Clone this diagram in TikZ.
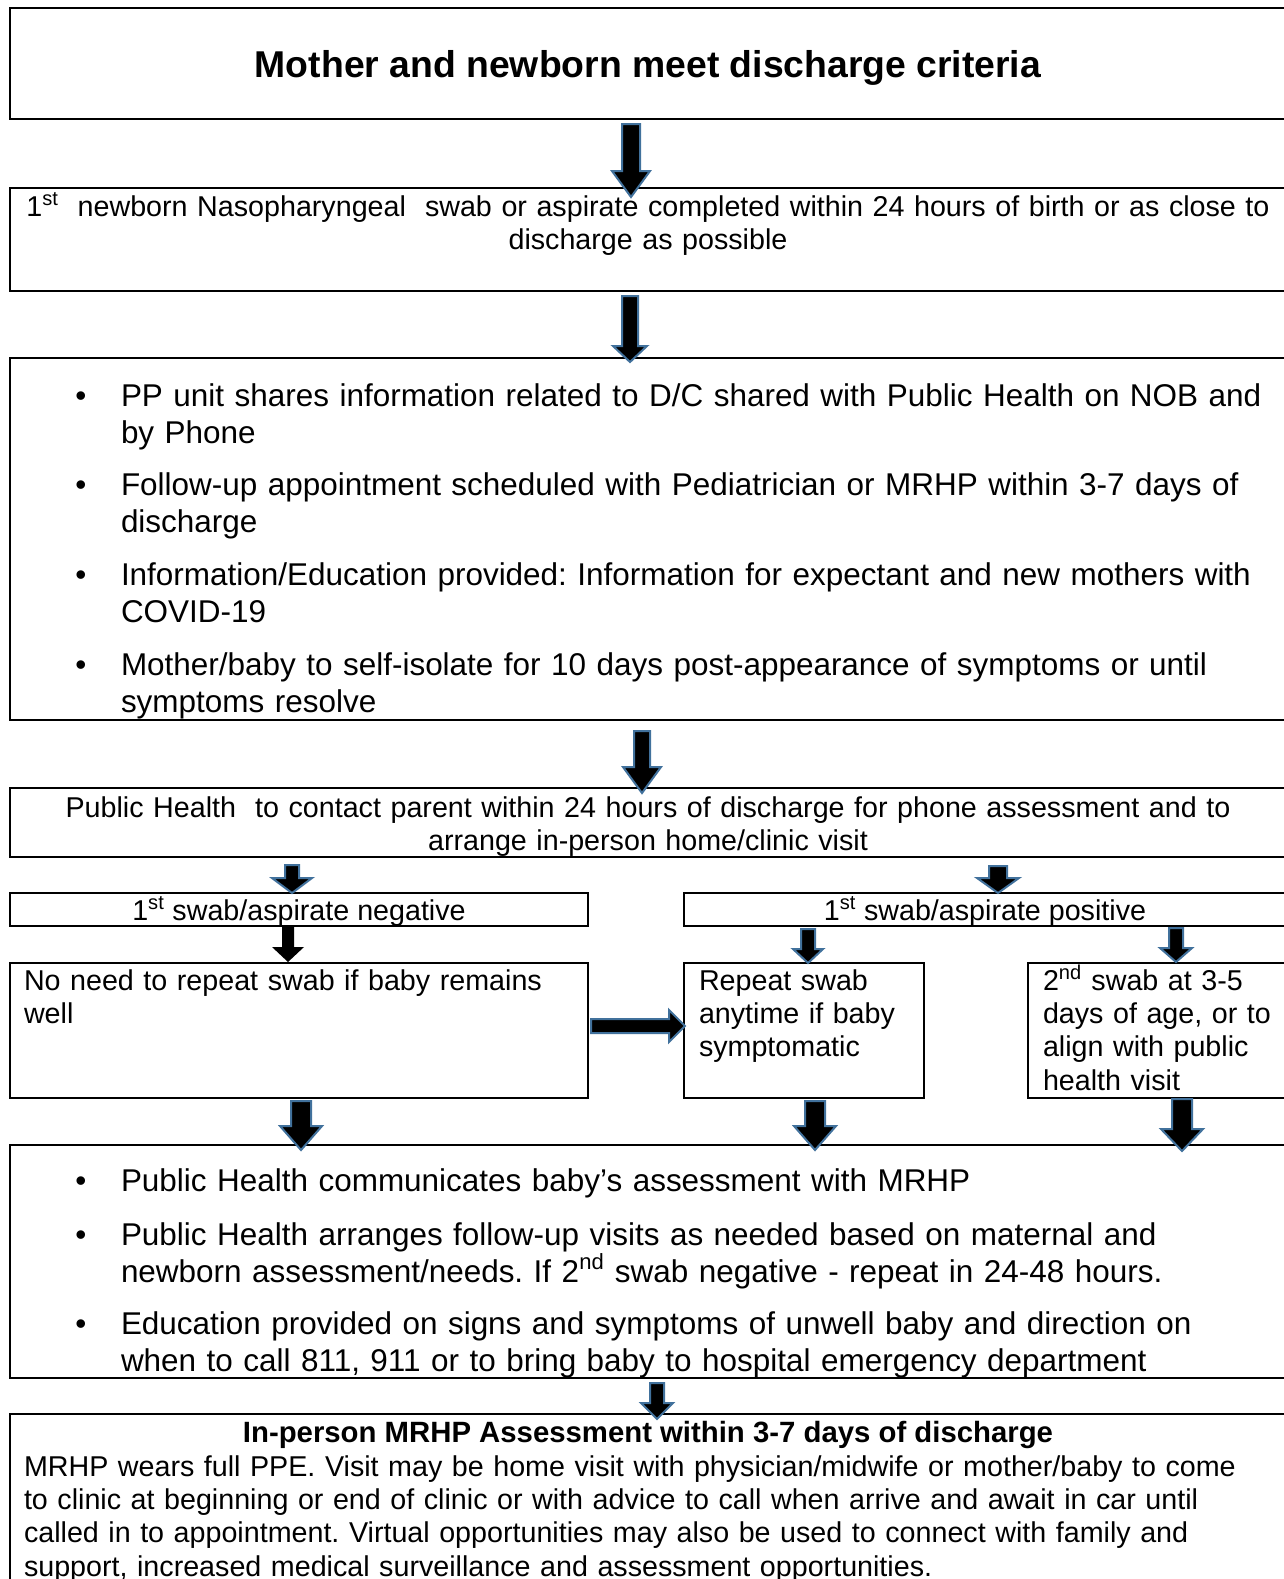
\documentclass[tikz,border=0pt]{standalone}
\usepackage{fontspec}
\setmainfont{Liberation Sans}
\usetikzlibrary{calc,fit}
\definecolor{arrowblue}{HTML}{41719C}
\frenchspacing
% down block arrow: #1 start, #2 tip, #3 shaft half width px, #4 head half width px, #5 head length px, #6 style
\newcommand\downarr[6]{%
  \path[#6] let \p1=(#1), \p2=(#2) in
    (\x1-#3*0.75pt,\y1) -- (\x1+#3*0.75pt,\y1) -- (\x1+#3*0.75pt,\y2+#5*0.75pt)
    -- (\x1+#4*0.75pt,\y2+#5*0.75pt) -- (\x1,\y2) -- (\x1-#4*0.75pt,\y2+#5*0.75pt)
    -- (\x1-#3*0.75pt,\y2+#5*0.75pt) -- cycle;}
\newcommand\rightarr[6]{%
  \path[#6] let \p1=(#1), \p2=(#2) in
    (\x1,\y1+#3*0.75pt) -- (\x1,\y1-#3*0.75pt) -- (\x2-#5*0.75pt,\y1-#3*0.75pt)
    -- (\x2-#5*0.75pt,\y1-#4*0.75pt) -- (\x2,\y1) -- (\x2-#5*0.75pt,\y1+#4*0.75pt)
    -- (\x2-#5*0.75pt,\y1+#3*0.75pt) -- cycle;}
\begin{document}
\begin{tikzpicture}[x=0.75pt,y=-0.75pt,
  box/.style={draw, line width=1.5pt, inner sep=0pt},
  barrow/.style={fill=black, draw=arrowblue, line width=1.5pt, line join=miter},
  plainarrow/.style={fill=black},
  txt/.style={inner sep=0pt, outer sep=0pt},
  big/.style={txt, font=\fontsize{23.6pt}{27.75pt}\selectfont},
  small/.style={txt, font=\fontsize{21.5pt}{25pt}\selectfont},
  title/.style={txt, font=\bfseries\fontsize{28pt}{32pt}\selectfont},
  bul/.style={big, anchor=base},
  btext/.style={big, anchor=base west, text width=930pt, align=left},
  ltext/.style={small, anchor=base west, text width=#1, align=left},
  ctext/.style={small, anchor=base, text width=#1, align=center}]
\useasboundingbox (0,0) rectangle (1284,1579);
\clip (0,0) rectangle (1284,1579);
\fill[white] (0,0) rectangle (1284,1579);

% boxes
\node[box, fit={(10,8) (1300,119)}] (b1) {};
\node[box, fit={(10,188) (1300,291)}] (b2) {};
\node[box, fit={(10,358) (1300,720)}] (b3) {};
\node[box, fit={(10,788) (1300,857)}] (b4) {};
\node[box, fit={(10,893) (588,926)}] (b5a) {};
\node[box, fit={(684,893) (1300,926)}] (b5b) {};
\node[box, fit={(10,963) (588,1098)}] (b6a) {};
\node[box, fit={(684,963) (924,1098)}] (b6b) {};
\node[box, fit={(1028,963) (1300,1098)}] (b6c) {};
\node[box, fit={(10,1145) (1300,1378)}] (b7) {};
\node[box, fit={(10,1414) (1300,1620)}] (b8) {};

% texts
\node[title, anchor=base] (t1) at (648,77) {Mother and newborn meet discharge criteria};
\node[ctext=960pt] (t2) at (648,216) {1\textsuperscript{st}\ \ newborn Nasopharyngeal\ \ swab or aspirate completed within 24 hours of birth or as close to\\ discharge as possible};

\node[bul] (d31) at (81,406) {\textbullet};
\node[btext] (t31) at (121,406) {PP unit shares information related to D/C shared with Public Health on NOB and\\ by Phone};
\node[bul] (d32) at (81,495) {\textbullet};
\node[btext] (t32) at (121,495) {Follow-up appointment scheduled with Pediatrician or MRHP within 3-7 days of\\ discharge};
\node[bul] (d33) at (81,585) {\textbullet};
\node[btext] (t33) at (121,585) {Information/Education provided: Information for expectant and new mothers with\\ COVID-19};
\node[bul] (d34) at (81,675) {\textbullet};
\node[btext] (t34) at (121,675) {Mother/baby to self-isolate for 10 days post-appearance of symptoms or until\\ symptoms resolve};

\node[ctext=960pt] (t4) at (648,817) {Public Health\ \ to contact parent within 24 hours of discharge for phone assessment and to\\ arrange in-person home/clinic visit};

\node[small, anchor=base] (t5a) at (299,920) {1\textsuperscript{st} swab/aspirate negative};
\node[small, anchor=base] (t5b) at (985,920) {1\textsuperscript{st} swab/aspirate positive};

\node[ltext=420pt] (t6a) at (24,990) {No need to repeat swab if baby remains\\ well};
\node[ltext=175pt] (t6b) at (699,990) {Repeat swab\\ anytime if baby\\ symptomatic};
\node[ltext=190pt] (t6c) at (1043,990) {2\textsuperscript{nd} swab at 3-5\\ days of age, or to\\ align with public\\ health visit};

\node[bul] (d71) at (81,1191) {\textbullet};
\node[btext] (t71) at (121,1191) {Public Health communicates baby’s assessment with MRHP};
\node[bul] (d72) at (81,1245) {\textbullet};
\node[btext] (t72) at (121,1245) {Public Health arranges follow-up visits as needed based on maternal and\\ newborn assessment/needs. If 2\textsuperscript{nd} swab negative - repeat in 24-48 hours.};
\node[bul] (d73) at (81,1334) {\textbullet};
\node[btext] (t73) at (121,1334) {Education provided on signs and symptoms of unwell baby and direction on\\ when to call 811, 911 or to bring baby to hospital emergency department};

\node[txt, font=\bfseries\fontsize{22pt}{25pt}\selectfont, anchor=base] (t8h) at (648,1442) {In-person MRHP Assessment within 3-7 days of discharge};
\node[ltext=960pt] (t8) at (24,1476) {MRHP wears full PPE. Visit may be home visit with physician/midwife or mother/baby to come\\ to clinic at beginning or end of clinic or with advice to call when arrive and await in car until\\ called in to appointment. Virtual opportunities may also be used to connect with family and\\ support, increased medical surveillance and assessment opportunities.};

% arrow end points
\coordinate (a1s) at (631,124);  \coordinate (a1e) at (631,197);
\coordinate (a2s) at (630,296);  \coordinate (a2e) at (630,362);
\coordinate (a3s) at (642,731);  \coordinate (a3e) at (642,793);
\coordinate (a4as) at (292,865); \coordinate (a4ae) at (292,893);
\coordinate (a4bs) at (998,866); \coordinate (a4be) at (998,893);
\coordinate (a5as) at (288,927); \coordinate (a5ae) at (288,962);
\coordinate (a5bs) at (808,929); \coordinate (a5be) at (808,963);
\coordinate (a5cs) at (1176,928);\coordinate (a5ce) at (1176,962);
\coordinate (a6s) at (591,1026); \coordinate (a6e) at (685,1026);
\coordinate (a7as) at (301,1101);\coordinate (a7ae) at (301,1150);
\coordinate (a7bs) at (815,1101);\coordinate (a7be) at (815,1150);
\coordinate (a7cs) at (1182,1099);\coordinate (a7ce) at (1182,1151);
\coordinate (a8s) at (657,1383); \coordinate (a8e) at (657,1419);

\downarr{a1s}{a1e}{9}{19}{26}{barrow}
\downarr{a2s}{a2e}{8}{17}{16}{barrow}
\downarr{a3s}{a3e}{8}{19}{26}{barrow}
\downarr{a4as}{a4ae}{7}{20}{15}{barrow}
\downarr{a4bs}{a4be}{9}{21}{15}{barrow}
\downarr{a5as}{a5ae}{6}{16}{15}{plainarrow}
\downarr{a5bs}{a5be}{7}{15}{14}{barrow}
\downarr{a5cs}{a5ce}{7}{16}{14}{barrow}
\rightarr{a6s}{a6e}{7}{16}{16}{barrow}
\downarr{a7as}{a7ae}{10}{21}{24}{barrow}
\downarr{a7bs}{a7be}{10}{21}{24}{barrow}
\downarr{a7cs}{a7ce}{10}{21}{22}{barrow}
\downarr{a8s}{a8e}{7}{16}{16}{barrow}
\end{tikzpicture}
\end{document}
